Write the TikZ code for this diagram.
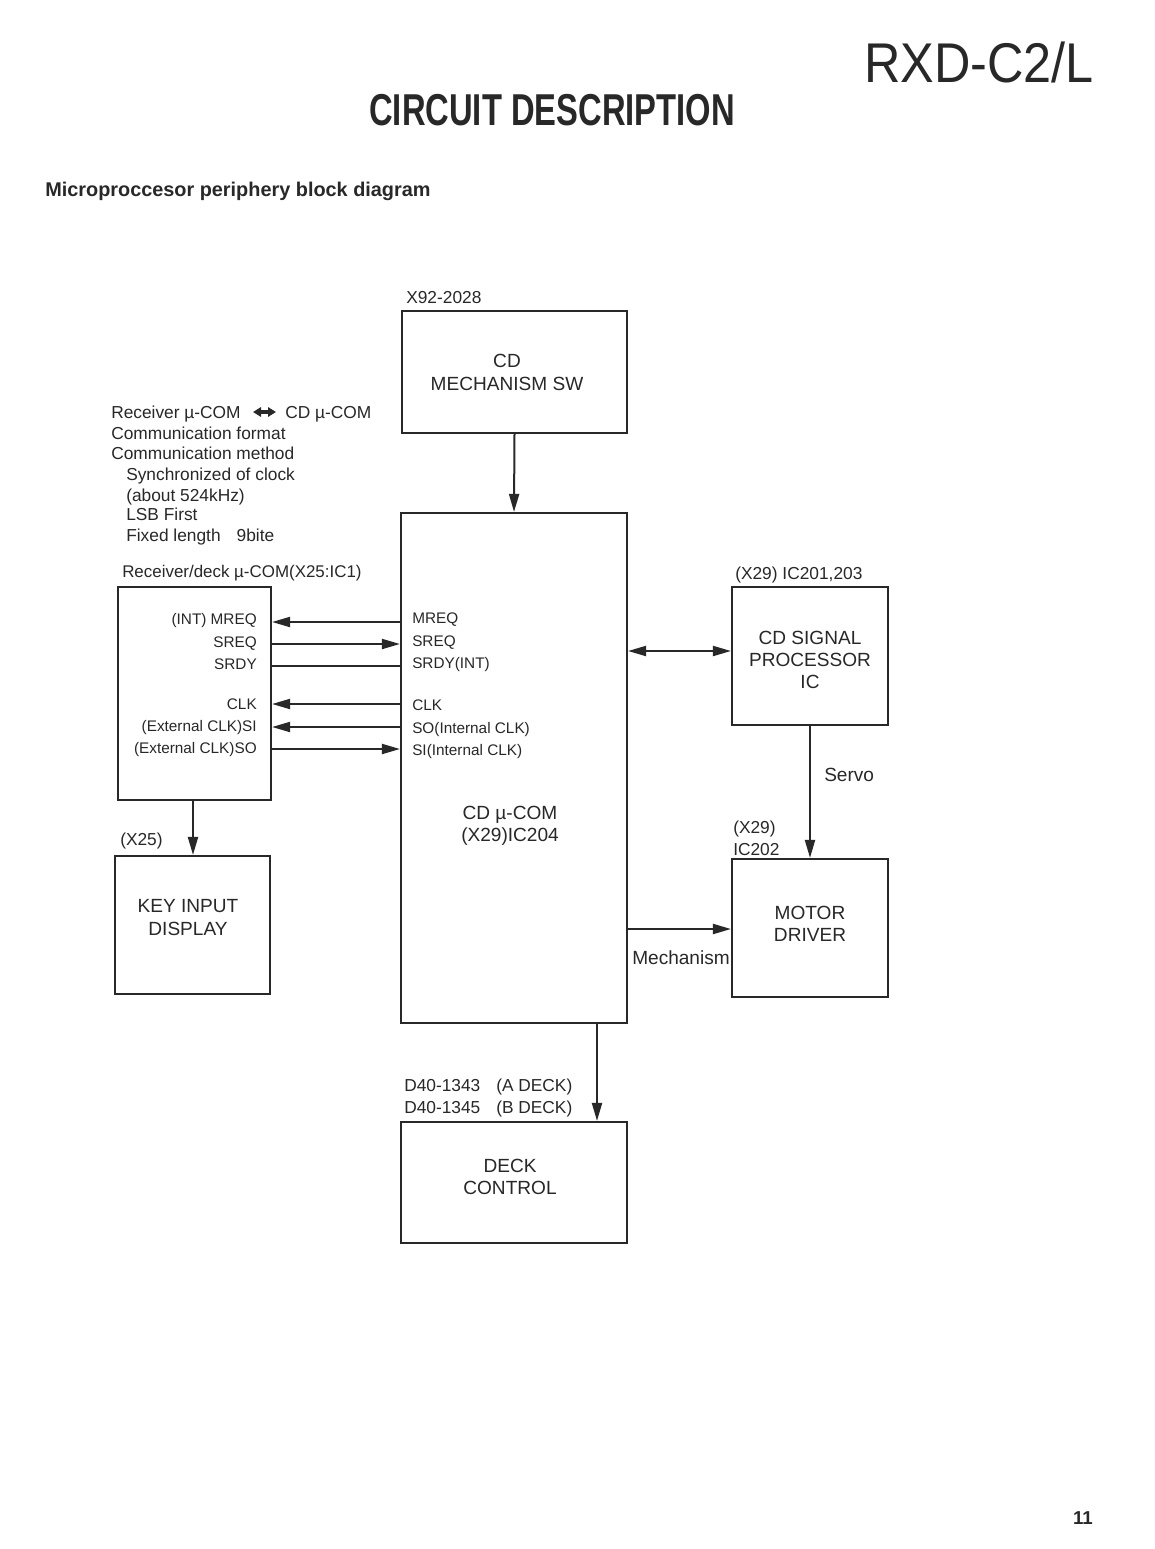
\documentclass[tikz,border=0pt]{standalone}
\usepackage{fontspec}
\setmainfont{Liberation Sans}
\usetikzlibrary{arrows.meta}
\definecolor{ink}{RGB}{40,40,40}
\begin{document}
\begin{tikzpicture}[x=0.75pt,y=-0.75pt,
  box/.style={draw=ink, line width=1.6pt, inner sep=0pt, rectangle},
  conn/.style={draw=ink, line width=1.5pt},
  arr/.style={conn, -{Triangle[length=13.5pt,width=7.5pt]}},
  darr/.style={conn, {Triangle[length=13.5pt,width=7.5pt]}-{Triangle[length=13.5pt,width=7.5pt]}},
  lbl/.style={text=ink, inner sep=0pt, anchor=base west, font=\fontsize{13}{15}\selectfont},
  biglbl/.style={text=ink, inner sep=0pt, anchor=base west, font=\fontsize{14.3}{16}\selectfont},
  pinl/.style={text=ink, inner sep=0pt, anchor=base east, font=\fontsize{11.5}{13}\selectfont},
  pinr/.style={text=ink, inner sep=0pt, anchor=base west, font=\fontsize{11.5}{13}\selectfont},
  btxt/.style={text=ink, inner sep=0pt, anchor=base, font=\fontsize{14.3}{16}\selectfont}
]
\useasboundingbox[fill=white] (0,0) rectangle (1154,1549);

% headings
\node[text=ink, inner sep=0pt, anchor=base east, font=\fontsize{42}{44}\selectfont] (model) at (1094,82) {\scalebox{0.9}[1]{RXD-C2/L}};
\node[text=ink, inner sep=0pt, anchor=base west, font=\bfseries\fontsize{33.5}{36}\selectfont] (title) at (369,125) {\scalebox{0.733}[1]{CIRCUIT DESCRIPTION}};
\node[text=ink, inner sep=0pt, anchor=base west, font=\bfseries\fontsize{14.9}{17}\selectfont] (subtitle) at (45,196) {Microproccesor periphery block diagram};
\node[text=ink, inner sep=0pt, anchor=base east, font=\bfseries\fontsize{14}{16}\selectfont] (page) at (1093,1524) {11};

% boxes
\node[box, minimum width=168.75pt, minimum height=91.5pt] (msw) at (514.5,372) {};
\node[box, minimum width=169.5pt, minimum height=382.5pt] (com) at (514,768) {};
\node[box, minimum width=114.75pt, minimum height=159.75pt] (rcv) at (194.5,693.5) {};
\node[box, minimum width=116.25pt, minimum height=103.5pt] (key) at (192.5,925) {};
\node[box, minimum width=117pt, minimum height=103.5pt] (sig) at (810,656) {};
\node[box, minimum width=117pt, minimum height=103.5pt] (mot) at (810,928) {};
\node[box, minimum width=169.5pt, minimum height=90.75pt] (deck) at (514,1182.5) {};

% box texts
\node[btxt] (mswA) at (507,367) {CD};
\node[btxt] (mswB) at (507,390) {MECHANISM SW};
\node[btxt] (comA) at (510,819) {CD µ-COM};
\node[btxt] (comB) at (510,841) {(X29)IC204};
\node[btxt] (keyA) at (188,912) {KEY INPUT};
\node[btxt] (keyB) at (188,935) {DISPLAY};
\node[btxt] (sigA) at (810,644) {CD SIGNAL};
\node[btxt] (sigB) at (810,666) {PROCESSOR};
\node[btxt] (sigC) at (810,688) {IC};
\node[btxt] (motA) at (810,919) {MOTOR};
\node[btxt] (motB) at (810,941) {DRIVER};
\node[btxt] (deckA) at (510,1172) {DECK};
\node[btxt] (deckB) at (510,1194) {CONTROL};

% labels
\node[lbl] (l_msw) at (406,303) {X92-2028};
\node[lbl, font=\fontsize{12.7}{15}\selectfont] (l_rcv) at (122,577) {Receiver/deck µ-COM(X25:IC1)};
\node[lbl] (l_sig) at (735,579) {(X29) IC201,203};
\node[lbl] (l_key) at (120,845) {(X25)};
\node[lbl] (l_motA) at (733,833) {(X29)};
\node[lbl] (l_motB) at (733,855) {IC202};
\node[lbl] (l_deckA) at (404,1091) {D40-1343};
\node[lbl] (l_deckA2) at (496,1091) {(A DECK)};
\node[lbl] (l_deckB) at (404,1113) {D40-1345};
\node[lbl] (l_deckB2) at (496,1113) {(B DECK)};
\node[biglbl] (servo) at (824,781) {Servo};
\node[biglbl] (mech) at (632,964) {Mechanism};

% communication notes
\node[lbl] (n1a) at (111,418) {Receiver µ-COM};
\node[lbl] (n1b) at (285,418) {CD µ-COM};
\coordinate (dl) at (253,412);
\coordinate (dr) at (276,412);
\draw[draw=ink, line width=2.4pt, {Triangle[length=6pt,width=7pt]}-{Triangle[length=6pt,width=7pt]}] (dl) -- (dr);
\node[lbl] (n2) at (111,439) {Communication format};
\node[lbl] (n3) at (111,459) {Communication method};
\node[lbl] (n4) at (126,480) {Synchronized of clock};
\node[lbl] (n5) at (126,501) {(about 524kHz)};
\node[lbl] (n6) at (126,520) {LSB First};
\node[lbl] (n7) at (126,541) {Fixed length\hspace{12pt}9bite};

% pin labels
\node[pinl] (pl1) at (257,624) {(INT) MREQ};
\node[pinl] (pl2) at (257,647) {SREQ};
\node[pinl] (pl3) at (257,669) {SRDY};
\node[pinl] (pl4) at (257,709) {CLK};
\node[pinl] (pl5) at (257,731) {(External CLK)SI};
\node[pinl] (pl6) at (257,753) {(External CLK)SO};
\node[pinr] (pr1) at (412,623) {MREQ};
\node[pinr] (pr2) at (412,646) {SREQ};
\node[pinr] (pr3) at (412,668) {SRDY(INT)};
\node[pinr] (pr4) at (412,710) {CLK};
\node[pinr] (pr5) at (412,733) {SO(Internal CLK)};
\node[pinr] (pr6) at (412,755) {SI(Internal CLK)};

% helper coordinates
\coordinate (y1) at (0,622);
\coordinate (y2) at (0,644);
\coordinate (y3) at (0,666);
\coordinate (y4) at (0,704);
\coordinate (y5) at (0,727);
\coordinate (y6) at (0,749);
\coordinate (ysig) at (0,651);
\coordinate (ymech) at (0,929);
\coordinate (xdeck) at (597,0);
\coordinate (xkey) at (193,0);

% connectors
\draw[arr] (com.west |- y1) -- (rcv.east |- y1);
\draw[arr] (rcv.east |- y2) -- (com.west |- y2);
\draw[conn] (rcv.east |- y3) -- (com.west |- y3);
\draw[arr] (com.west |- y4) -- (rcv.east |- y4);
\draw[arr] (com.west |- y5) -- (rcv.east |- y5);
\draw[arr] (rcv.east |- y6) -- (com.west |- y6);

\draw[arr] (msw.south) -- (com.north);
\draw[arr] (rcv.south -| xkey) -- (key.north -| xkey);
\draw[darr] (com.east |- ysig) -- (sig.west |- ysig);
\draw[arr] (sig.south) -- (mot.north);
\draw[arr] (com.east |- ymech) -- (mot.west |- ymech);
\draw[arr] (com.south -| xdeck) -- (deck.north -| xdeck);
\end{tikzpicture}
\end{document}
